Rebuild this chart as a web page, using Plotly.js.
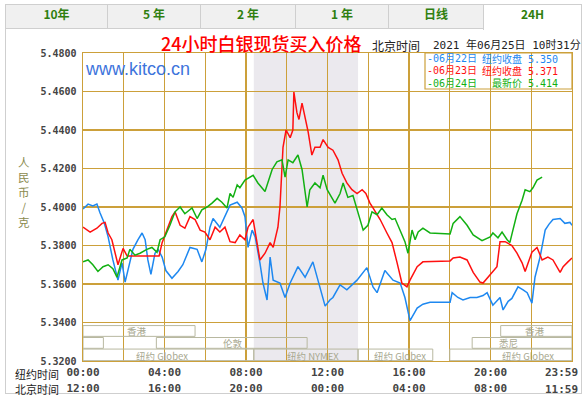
<!DOCTYPE html>
<html>
<head>
<meta charset="utf-8">
<script src="https://cdn.plot.ly/plotly-3.0.1.min.js"></script>
<style>
body{margin:0;background:#fff;width:588px;height:397px;overflow:hidden;position:relative;}
.tab{position:absolute;top:4px;height:25px;line-height:25px;border:1px solid #cfcfcf;border-right:none;background:#f0f0f0;text-align:center;font:bold 12px "Noto Sans CJK SC",sans-serif;color:#2f7f0f;box-sizing:border-box;}
.tab.sel{background:#fff;border-bottom:none;height:26px;border-right:1px solid #cfcfcf;}
#frame{position:absolute;left:5px;top:29px;width:577px;height:365px;border:1px solid #cfcfcf;border-top:none;box-sizing:border-box;}
#chart{position:absolute;left:0;top:0;width:588px;height:397px;}
</style>
</head>
<body>
<div id="frame"></div>
<div id="tabs"></div>
<div id="chart"></div>
<script>
// ---- data (minutes since New York 00:00, price) ----
const tabLabels = ['10年','5 年','2 年','1 年','日线','24H'];

const blueMin = [0,15,29,41,50,62,74,88,103,115,124,133,147,162,174,183,191,200,212,221,233,244,262,280,294,315,336,350,362,374,383,403,418,433,454,468,477,486,498,507,521,530,542,551,560,580,595,610,633,654,677,692,713,727,736,757,777,807,836,854,866,889,913,934,948,963,984,1001,1022,1081,1087,1104,1119,1140,1160,1178,1190,1207,1228,1237,1252,1263,1281,1296,1308,1322,1331,1346,1361,1372,1384,1405,1419,1434,1440];
const blueVal = [5.399,5.4015,5.4005,5.4015,5.397,5.392,5.3845,5.3725,5.362,5.371,5.361,5.368,5.378,5.383,5.3865,5.383,5.3725,5.365,5.376,5.378,5.374,5.367,5.363,5.3665,5.370,5.379,5.378,5.3715,5.378,5.3895,5.394,5.3895,5.395,5.401,5.4025,5.3995,5.395,5.379,5.388,5.3845,5.371,5.3605,5.3517,5.374,5.362,5.3605,5.353,5.3605,5.369,5.3635,5.3715,5.362,5.3485,5.3517,5.353,5.3595,5.357,5.362,5.3685,5.3585,5.3555,5.367,5.362,5.3605,5.353,5.341,5.3475,5.3495,5.3505,5.3505,5.3555,5.353,5.3517,5.353,5.353,5.354,5.3555,5.349,5.353,5.3465,5.351,5.3525,5.3585,5.357,5.3555,5.350,5.3635,5.374,5.388,5.391,5.3935,5.394,5.3915,5.392,5.3905];

const redMin = [0,21,41,56,65,74,85,94,103,118,130,224,233,247,262,271,286,300,315,330,345,359,374,389,403,418,433,448,462,477,486,501,512,521,536,551,560,574,580,586,589,598,610,618,621,630,636,645,654,663,674,683,698,707,722,736,751,763,777,792,807,822,833,845,854,875,895,910,925,939,954,963,984,1001,1081,1090,1110,1131,1149,1169,1178,1199,1219,1228,1243,1263,1278,1293,1302,1311,1322,1337,1352,1369,1384,1405,1414,1428,1440];
const redVal = [5.3895,5.387,5.389,5.3915,5.392,5.3865,5.383,5.376,5.370,5.3785,5.3745,5.3745,5.3815,5.388,5.395,5.3975,5.3905,5.389,5.395,5.3935,5.388,5.387,5.383,5.3895,5.387,5.3895,5.382,5.3815,5.3855,5.383,5.3895,5.3935,5.383,5.3725,5.376,5.3815,5.379,5.3895,5.400,5.421,5.431,5.440,5.436,5.440,5.4597,5.449,5.4455,5.454,5.447,5.439,5.427,5.431,5.431,5.435,5.431,5.4295,5.4245,5.4175,5.4125,5.409,5.407,5.409,5.407,5.402,5.3995,5.3935,5.3865,5.3815,5.371,5.3605,5.3585,5.362,5.369,5.3715,5.372,5.3735,5.374,5.3725,5.366,5.361,5.3605,5.3647,5.369,5.382,5.382,5.380,5.376,5.371,5.3665,5.371,5.3765,5.379,5.3725,5.374,5.3725,5.366,5.369,5.3715,5.3735];

const greenMin = [0,15,29,44,59,74,88,100,115,130,138,153,168,188,203,218,227,241,256,271,286,300,321,336,350,365,380,395,409,424,433,442,454,462,477,492,501,515,536,557,571,586,595,604,618,633,645,660,668,683,698,707,719,742,757,766,780,795,810,825,839,851,866,880,895,910,919,934,948,957,969,978,987,1001,1022,1081,1090,1110,1131,1149,1175,1199,1207,1222,1234,1249,1257,1266,1278,1293,1302,1316,1325,1337,1352];
const greenVal = [5.3715,5.3725,5.370,5.3665,5.369,5.370,5.368,5.3635,5.3725,5.3735,5.378,5.375,5.376,5.378,5.379,5.3765,5.383,5.3845,5.3905,5.3975,5.400,5.3965,5.3995,5.394,5.3985,5.400,5.402,5.4045,5.4025,5.3995,5.407,5.405,5.4115,5.410,5.414,5.4155,5.4165,5.4125,5.408,5.4195,5.4235,5.4245,5.4155,5.4245,5.423,5.427,5.4195,5.400,5.409,5.4125,5.410,5.4165,5.409,5.402,5.407,5.4125,5.405,5.406,5.3965,5.388,5.3905,5.3975,5.396,5.3995,5.396,5.3935,5.394,5.388,5.382,5.376,5.388,5.383,5.387,5.389,5.3865,5.386,5.3915,5.395,5.3905,5.3855,5.3825,5.3845,5.3865,5.384,5.387,5.383,5.3815,5.388,5.3965,5.4035,5.409,5.408,5.410,5.414,5.4155];

const seriesNames = ['06月22日','06月23日','06月24日'];
const seriesNotes = ['纽约收盘 5.350','纽约收盘 5.371','最新价 5.414'];

const xTickVals = [0,120,240,360,480,600,720,840,960,1080,1200,1320,1440];
const nyTickText = ['00:00','','04:00','','08:00','','12:00','','16:00','','20:00','',''];
const bjTickText = ['12:00','','16:00','','20:00','','00:00','','04:00','','08:00','',''];
const nyEndLabel = '23:59', bjEndLabel = '11:59';
const yTickVals = [5.32,5.34,5.36,5.38,5.40,5.42,5.44,5.46,5.48];
const yTickText = ['5.3200','5.3400','5.3600','5.3800','5.4000','5.4200','5.4400','5.4600','5.4800'];

// market sessions
const sessionRow = [1,1,2,2,2,3,3,3,3];
const sessionStart = [0,1230,0,216,1146,0,503,810,1080];
const sessionEnd = [330,1440,60,660,1440,503,810,1030,1440];
const sessionLabel = ['香港','香港','','伦敦','悉尼','纽约 Globex','纽约 NYMEX','纽约 Globex','纽约 Globex'];
const sessionLabelAt = [159,1332,0,441,1252,234,676,933,1310];
const nymexStart = 503, nymexEnd = 810;

// ---- tabs (HTML) ----
const tabEdges = [5,107,200,295,388,483,582];
const tabsDiv = document.getElementById('tabs');
tabLabels.forEach((t,i)=>{
  const d=document.createElement('div');
  d.className='tab'+(i===tabLabels.length-1?' sel':'');
  d.style.left=tabEdges[i]+'px';
  d.style.width=(tabEdges[i+1]-tabEdges[i])+'px';
  d.textContent=t;
  tabsDiv.appendChild(d);
});

// ---- chart ----
const W=588,H=397,L=83,R=16,T=53,B=36;
const pw=W-L-R, ph=H-T-B;
const px=x=>(x-L)/pw, py=y=>(H-B-y)/ph;
const grid='#cca03a';
const colors=['#1e88f0','#ff1010','#12b012'];
const mono='"DejaVu Sans Mono", monospace';
const cjk='"Noto Sans CJK SC", sans-serif';

const traces=[
 {x:blueMin,y:blueVal,name:seriesNames[0],mode:'lines',line:{color:colors[0],width:1.5}},
 {x:redMin,y:redVal,name:seriesNames[1],mode:'lines',line:{color:colors[1],width:1.5}},
 {x:greenMin,y:greenVal,name:seriesNames[2],mode:'lines',xaxis:'x2',line:{color:colors[2],width:1.5}}
];

const rowTop={1:5.3384,2:5.3322,3:5.3262};
const rowBot={1:5.3328,2:5.3266,3:5.3202};
const rowLabelPx={1:331,2:342.5,3:355.5};

const shapes=[
 {type:'rect',xref:'x',yref:'paper',x0:nymexStart,x1:nymexEnd,y0:0,y1:1,fillcolor:'#ebe9ee',line:{width:0},layer:'below'},
 {type:'rect',xref:'paper',yref:'paper',x0:px(425),x1:1,y0:py(89),y1:1,line:{color:grid,width:1.2},fillcolor:'rgba(255,255,255,0)'}
];
const annotations=[];
for(let i=0;i<sessionRow.length;i++){
  shapes.push({type:'rect',xref:'x',yref:'y',x0:sessionStart[i],x1:sessionEnd[i],y0:rowBot[sessionRow[i]],y1:rowTop[sessionRow[i]],line:{color:'#b8b8a0',width:1},layer:'above'});
  if(sessionLabel[i]) annotations.push({xref:'x',yref:'paper',x:sessionLabelAt[i],y:py(rowLabelPx[sessionRow[i]]),text:sessionLabel[i],showarrow:false,borderpad:0,font:{family:cjk,size:9.5,color:'#a8a890'},xanchor:'center',yanchor:'middle'});
}

annotations.push(
 {xref:'paper',yref:'paper',x:px(261),y:py(43),text:'24小时白银现货买入价格',showarrow:false,font:{family:cjk,size:18,color:'#ff0000',weight:500},xanchor:'center',yanchor:'middle'},
 {xref:'paper',yref:'paper',x:px(370),y:py(45),text:'北京时间',showarrow:false,font:{family:cjk,size:12,color:'#222'},xanchor:'left',yanchor:'middle'},
 {xref:'paper',yref:'paper',x:px(431),y:py(45),text:'2021 年06月25日 10时31分',showarrow:false,font:{family:mono+','+cjk,size:11,color:'#222'},xanchor:'left',yanchor:'middle'},
 {xref:'paper',yref:'paper',x:px(137),y:py(69),text:'www.kitco.cn',showarrow:false,font:{family:'"Liberation Sans", Arial, sans-serif',size:18,color:'#3d74dc'},xanchor:'center',yanchor:'middle'},
 {xref:'paper',yref:'paper',x:px(37),y:py(374),text:'纽约时间',showarrow:false,borderpad:0,font:{family:cjk,size:11,color:'#222'},xanchor:'center',yanchor:'middle'},
 {xref:'paper',yref:'paper',x:px(37),y:py(389),text:'北京时间',showarrow:false,borderpad:0,font:{family:cjk,size:11,color:'#222'},xanchor:'center',yanchor:'middle'},
 {xref:'paper',yref:'paper',x:px(579),y:py(373),text:nyEndLabel,showarrow:false,borderpad:0,font:{family:mono,size:11,color:'#444',weight:'bold'},xanchor:'right',yanchor:'middle'},
 {xref:'paper',yref:'paper',x:px(579),y:py(389),text:bjEndLabel,showarrow:false,borderpad:0,font:{family:mono,size:11,color:'#444',weight:'bold'},xanchor:'right',yanchor:'middle'},
 {xref:'paper',yref:'paper',x:px(24),y:py(192),text:'人<br>民<br>币<br>/<br>克',showarrow:false,borderpad:0,font:{family:cjk,size:11.5,color:'#8b8b4f'},xanchor:'center',yanchor:'middle'}
);

const legY=[59,71,83];
seriesNames.forEach((n,i)=>{
  annotations.push({xref:'paper',yref:'paper',x:px(426),y:py(legY[i]),text:'-'+n,showarrow:false,borderpad:0,font:{family:mono+','+cjk,size:10,color:colors[i]},xanchor:'left',yanchor:'middle'});
  annotations.push({xref:'paper',yref:'paper',x:px(559),y:py(legY[i]),text:seriesNotes[i],showarrow:false,borderpad:0,font:{family:mono+','+cjk,size:10,color:colors[i]},xanchor:'right',yanchor:'middle'});
});

const layout={
  width:W,height:H,margin:{l:L,r:R,t:T,b:B,pad:0},
  paper_bgcolor:'rgba(0,0,0,0)',plot_bgcolor:'#ffffff',
  showlegend:false,
  xaxis:{range:[0,1440],tickvals:xTickVals,ticktext:nyTickText,showgrid:true,gridcolor:grid,gridwidth:1.2,
    showline:true,linecolor:grid,linewidth:1.4,mirror:true,zeroline:false,ticks:'',ticklabeloverflow:'allow',
    tickfont:{family:mono,size:11,color:'#444',weight:'bold'},ticklabelstandoff:0,fixedrange:true},
  xaxis2:{range:[0,1440],overlaying:'x',anchor:'y',side:'bottom',tickvals:xTickVals,ticktext:bjTickText,showgrid:false,
    showline:false,zeroline:false,ticks:'',ticklabeloverflow:'allow',tickfont:{family:mono,size:11,color:'#444',weight:'bold'},ticklabelstandoff:19},
  yaxis:{range:[5.32,5.48],tickvals:yTickVals,ticktext:yTickText,showgrid:true,gridcolor:grid,gridwidth:1.2,
    showline:true,linecolor:grid,linewidth:1.4,mirror:true,zeroline:false,ticks:'',
    tickfont:{family:mono,size:10,color:'#444',weight:'bold'},ticklabelstandoff:3},
  shapes:shapes,annotations:annotations
};
Plotly.newPlot('chart',traces,layout,{staticPlot:true});
</script>
</body>
</html>
